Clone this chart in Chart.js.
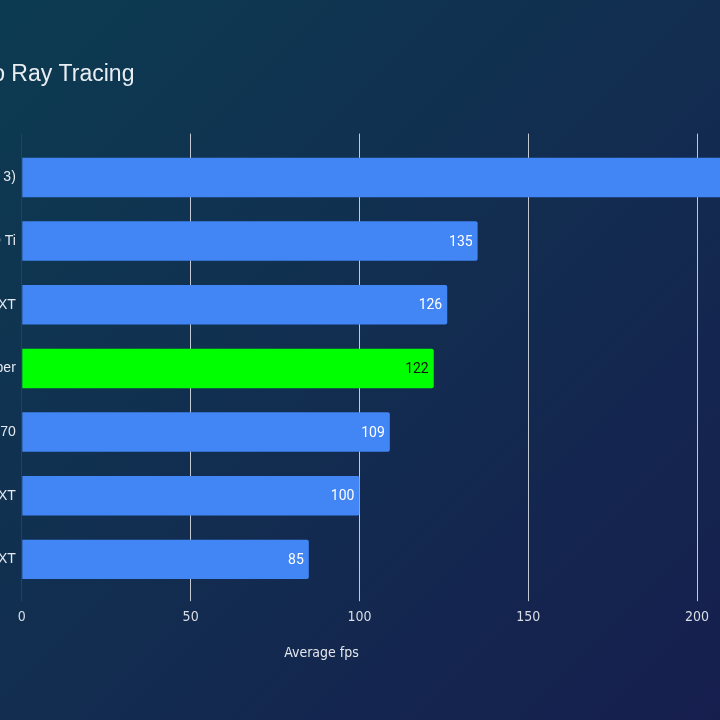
<!DOCTYPE html>
<html>
<head>
<meta charset="utf-8">
<script src="https://cdn.jsdelivr.net/npm/chart.js@4.4.1/dist/chart.umd.min.js"></script>
<style>
  html, body { margin: 0; width: 720px; height: 720px; overflow: hidden; }
  body { position: relative; background: linear-gradient(135deg, #0c3b51 0%, #122d50 50%, #161e4e 100%); }
  #myChart { position: absolute; top: 0; }
</style>
</head>
<body>
<canvas id="myChart"></canvas>
<script>
// data
const chartTitle = 'Cyberpunk 2077 1440p No Ray Tracing';
const axisTitle = 'Average fps';
const gpus = ['RTX 4070 Super (DLSS 3)', 'RTX 4070 Ti', 'RX 7900 XT', 'RTX 4070 Super', 'RTX 4070', 'RX 7800 XT', 'RX 7700 XT'];
const fps = [220, 135, 126, 122, 109, 100, 85];
const xTicks = [0, 50, 100, 150, 200, 250];
const highlighted = 'RTX 4070 Super';

const sans = '"Liberation Sans", Arial, sans-serif';
const narrow = '"Liberation Sans Narrow", "Arial Narrow", "DejaVu Sans Condensed", sans-serif';

// the picture is a crop of a wider chart: left labels and right end are cut off
const pxPerUnit = 3.375;
const padL = 10, padR = 40;
const m = document.createElement('canvas').getContext('2d');
m.font = '23px ' + sans;
const rPos = m.measureText('Cyberpunk 2077 1440p No ').width;
const L = padL + rPos - 11.5;
const xMax = (rPos - 11.5 + 621) / pxPerUnit;
const yW = L + 22 - padL;
const W = Math.round(L + 22 + xMax * pxPerUnit + padR);

const canvas = document.getElementById('myChart');
canvas.width = W;
canvas.height = 720;
canvas.style.left = (-L) + 'px';

const gridColor = c => (c.tick && c.tick.value === 0) ? '#27405f' : '#c3c9d2';
const setTicks = s => { s.ticks = xTicks.map(v => ({ value: v })); };

const valueLabels = {
  id: 'valueLabels',
  afterDatasetsDraw(chart) {
    const ctx = chart.ctx;
    const meta = chart.getDatasetMeta(0);
    ctx.save();
    ctx.font = '14px Roboto, sans-serif';
    ctx.textAlign = 'right';
    ctx.textBaseline = 'middle';
    meta.data.forEach((bar, i) => {
      ctx.fillStyle = gpus[i] === highlighted ? '#141414' : '#ffffff';
      ctx.fillText(fps[i], bar.x - 5, bar.y + 1);
    });
    ctx.restore();
  }
};

new Chart(canvas, {
  type: 'bar',
  data: {
    labels: gpus,
    datasets: [{
      data: fps,
      backgroundColor: c => gpus[c.index] === highlighted ? '#00ff00' : '#4285f4',
      borderRadius: 2,
      categoryPercentage: 1,
      barPercentage: 0.62
    }]
  },
  options: {
    indexAxis: 'y',
    responsive: false,
    animation: false,
    layout: { padding: { left: padL, right: padR, top: 0, bottom: 0 } },
    plugins: {
      legend: { display: false },
      tooltip: { enabled: false },
      title: {
        display: true,
        text: chartTitle,
        align: 'start',
        color: '#e9eef2',
        font: { family: sans, size: 23, weight: 'normal' },
        padding: { top: 61, bottom: 45 }
      },
      subtitle: {
        display: true,
        position: 'bottom',
        text: axisTitle,
        color: '#e3e7ee',
        font: { family: narrow, size: 14 },
        padding: { top: 14, bottom: 58 }
      }
    },
    scales: {
      x: {
        min: 0, max: xMax,
        afterBuildTicks: setTicks,
        afterFit: s => { s.height = 40; },
        border: { display: false },
        grid: { color: gridColor, tickLength: 10 },
        ticks: { color: '#d9dee6', padding: 8, font: { family: narrow, size: 14 } }
      },
      x2: {
        type: 'linear', position: 'top', axis: 'x',
        min: 0, max: xMax,
        afterBuildTicks: setTicks,
        afterFit: s => { s.height = 12; },
        border: { display: false },
        grid: { color: gridColor, drawOnChartArea: false, tickLength: 12 },
        ticks: { display: false }
      },
      y: {
        afterFit: s => { s.width = yW; },
        border: { display: false },
        grid: { display: false, drawTicks: false },
        ticks: { color: '#e6eaf0', padding: 6, font: { family: sans, size: 14 } }
      }
    }
  },
  plugins: [valueLabels]
});
</script>
</body>
</html>
